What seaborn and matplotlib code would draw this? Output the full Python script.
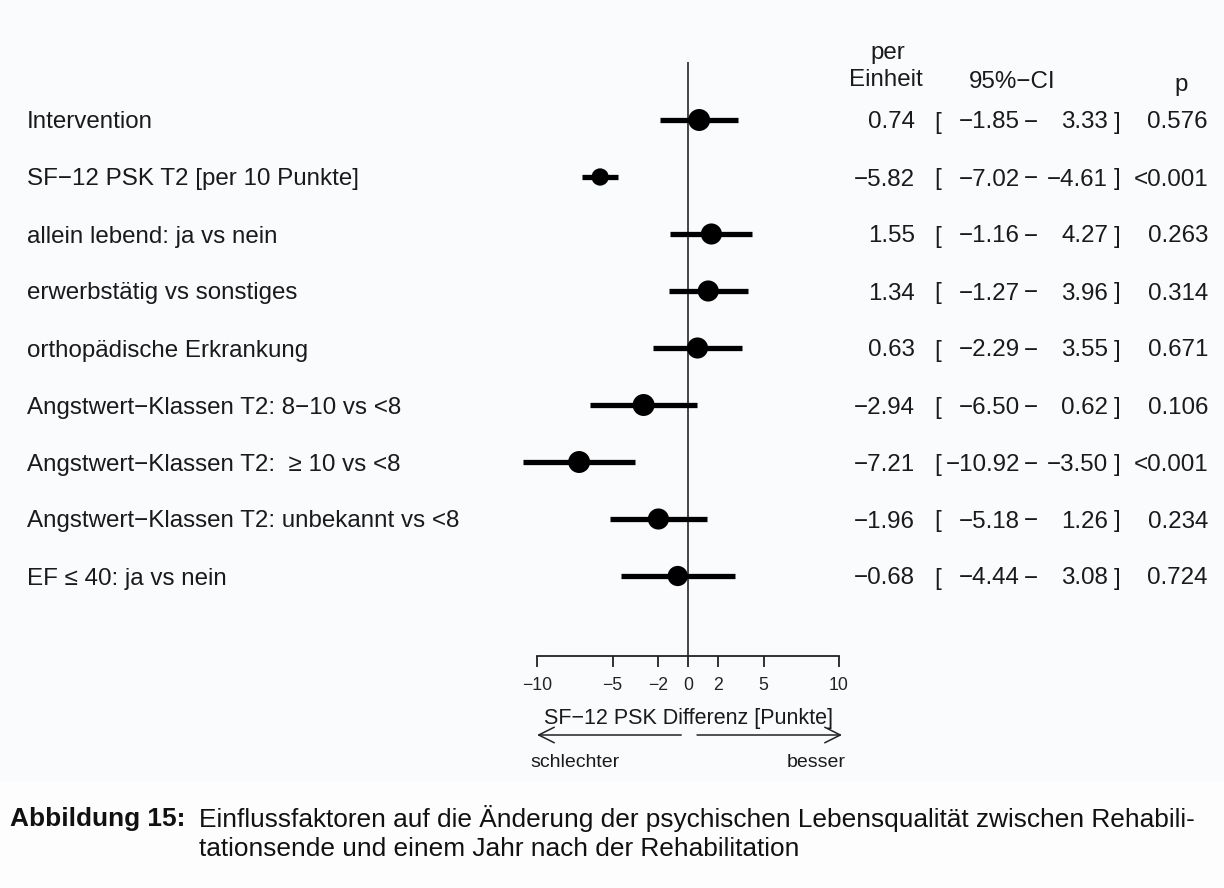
import numpy as np
import pandas as pd
import seaborn as sns
import matplotlib.pyplot as plt
from matplotlib.transforms import blended_transform_factory
from matplotlib.patches import Rectangle

# ---- data -------------------------------------------------------------
labels = [
    "Intervention",
    "SF\u221212 PSK T2 [per 10 Punkte]",
    "allein lebend: ja vs nein",
    "erwerbst\u00e4tig vs sonstiges",
    "orthop\u00e4dische Erkrankung",
    "Angstwert\u2212Klassen T2: 8\u221210 vs <8",
    "Angstwert\u2212Klassen T2:  \u2265 10 vs <8",
    "Angstwert\u2212Klassen T2: unbekannt vs <8",
    "EF \u2264 40: ja vs nein",
]
estimate = [0.74, -5.82, 1.55, 1.34, 0.63, -2.94, -7.21, -1.96, -0.68]
ci_low = [-1.85, -7.02, -1.16, -1.27, -2.29, -6.50, -10.92, -5.18, -4.44]
ci_high = [3.33, -4.61, 4.27, 3.96, 3.55, 0.62, -3.50, 1.26, 3.08]
p_values = ["0.576", "<0.001", "0.263", "0.314", "0.671", "0.106", "<0.001", "0.234", "0.724"]
box_weight = [1.0, 0.75, 0.95, 0.95, 0.95, 1.0, 1.0, 0.95, 0.9]
x_ticks = [-10, -5, -2, 0, 2, 5, 10]

df = pd.DataFrame({
    "label": labels, "est": estimate, "lo": ci_low, "hi": ci_high,
    "p": p_values, "w": box_weight,
})
df["row"] = np.arange(len(df))

# ---- figure / layout --------------------------------------------------
W, H = 1224, 888
sns.set_theme(style="white")
plt.rcParams["font.family"] = ["Liberation Sans", "DejaVu Sans"]
plt.rcParams["axes.unicode_minus"] = True

fig = plt.figure(figsize=(W / 100, H / 100), dpi=100, facecolor="#fafbfd")
fig.patches.append(Rectangle((0, 0), 1, 1 - 782 / H, transform=fig.transFigure,
                             facecolor="#fdfdfe", edgecolor="none", zorder=-1))

# axes placed in pixel space: x = 0 at 688 px, 15.1 px per unit
px_per_unit = 15.1
x0_px = 688
ax_left, ax_right = 500, 860
ax_top, ax_bottom = 40, 656
ax = fig.add_axes([ax_left / W, 1 - ax_bottom / H,
                   (ax_right - ax_left) / W, (ax_bottom - ax_top) / H])
ax.set_facecolor("none")
ax.set_xlim((ax_left - x0_px) / px_per_unit, (ax_right - x0_px) / px_per_unit)
row0_px, row_step = 120, 57
ax.set_ylim((ax_bottom - row0_px) / row_step, (ax_top - row0_px) / row_step)

for s in ["top", "right", "left"]:
    ax.spines[s].set_visible(False)
ax.spines["bottom"].set_bounds(x_ticks[0], x_ticks[-1])
ax.spines["bottom"].set_color("#222222")
ax.spines["bottom"].set_linewidth(1.3)
ax.set_yticks([])
ax.set_xticks(x_ticks)
ax.set_xticklabels([f"{t}".replace("-", "\u2212") for t in x_ticks])
ax.tick_params(axis="x", direction="out", length=8, width=1.3, color="#222222",
               labelsize=12.7, labelcolor="#222222", pad=7, bottom=True)

# zero reference line
ax.vlines(0, (62 - row0_px) / row_step, ax.get_ylim()[0], color="#444444",
          linewidth=1.4, zorder=1)

# confidence intervals and point estimates
ax.hlines(df["row"], df["lo"], df["hi"], color="black", linewidth=3.8, zorder=2)
sns.scatterplot(data=df, x="est", y="row", size="w", sizes=(155, 250),
                size_norm=(0.75, 1.0), color="black", edgecolor="black",
                linewidth=0, legend=False, ax=ax, zorder=3, clip_on=False)
ax.set_xlabel("")
ax.set_ylabel("")

# ---- text columns -----------------------------------------------------
tr = blended_transform_factory(fig.transFigure, ax.transData)
fs = 17.4
tc = "#1a1a1a"


def fx(px):
    return px / W


def fmt(v):
    return f"{v:.2f}".replace("-", "\u2212")


for _, r in df.iterrows():
    y = r["row"]
    kw = dict(transform=tr, va="center_baseline", fontsize=fs, color=tc)
    ax.text(fx(27), y, r["label"], ha="left", **kw)
    ax.text(fx(915), y, fmt(r["est"]), ha="right", **kw)
    ax.text(fx(934), y, "[", ha="left", **kw)
    ax.text(fx(1020), y, fmt(r["lo"]), ha="right", **kw)
    ax.text(fx(1031), y, "\u2212", ha="center", **kw)
    ax.text(fx(1108), y, fmt(r["hi"]), ha="right", **kw)
    ax.text(fx(1114), y, "]", ha="left", **kw)
    ax.text(fx(1208), y, r["p"], ha="right", **kw)


def ftext(xp, yp, s, **kw):
    fig.text(xp / W, 1 - yp / H, s, **kw)


# column headers
hk = dict(fontsize=fs, color=tc, va="center_baseline")
ftext(888, 50, "per", ha="center", **hk)
ftext(886, 78, "Einheit", ha="center", **hk)
ftext(1012, 80, "95%\u2212CI", ha="center", **hk)
ftext(1181, 82, "p", ha="center", **hk)

# axis title and direction arrows
ftext(688, 716, "SF\u221212 PSK Differenz [Punkte]", ha="center",
      fontsize=15.5, color=tc, va="center_baseline")
arrow_tr = blended_transform_factory(ax.transData, fig.transFigure)
arrow_kw = dict(arrowstyle="->", color="#222222", lw=1.1,
                mutation_scale=28, shrinkA=0, shrinkB=0)
y_arrow = 1 - 735 / H
ax.annotate("", xy=(x_ticks[0], y_arrow), xytext=(-0.45, y_arrow),
            xycoords=arrow_tr, textcoords=arrow_tr,
            arrowprops=arrow_kw, annotation_clip=False)
ax.annotate("", xy=(10.2, y_arrow), xytext=(0.6, y_arrow),
            xycoords=arrow_tr, textcoords=arrow_tr,
            arrowprops=arrow_kw, annotation_clip=False)

ftext(530, 760, "schlechter", ha="left", fontsize=14, color=tc, va="center_baseline")
ftext(846, 760, "besser", ha="right", fontsize=14, color=tc, va="center_baseline")

# ---- caption ----------------------------------------------------------
cap = dict(fontsize=18.9, color="#111111", va="center_baseline")
ftext(10, 816, "Abbildung 15:", ha="left", fontweight="bold", **cap)
ftext(199, 816, "Einflussfaktoren auf die \u00c4nderung der psychischen Lebensqualit\u00e4t "
      "zwischen Rehabili-", ha="left", **cap)
ftext(199, 846, "tationsende und einem Jahr nach der Rehabilitation", ha="left", **cap)

fig.savefig("out.png", dpi=100, facecolor=fig.get_facecolor())
